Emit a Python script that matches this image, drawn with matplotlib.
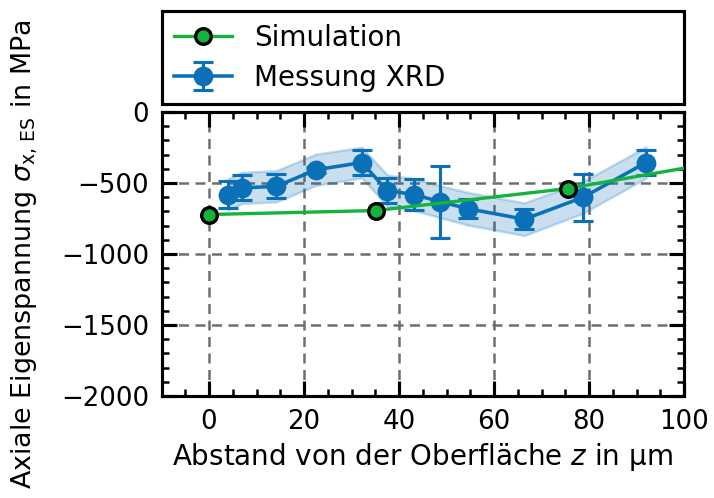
import matplotlib
matplotlib.use("Agg")
import matplotlib.pyplot as plt
from matplotlib.ticker import MultipleLocator

# Simulation data
sim_z = [0.0, 35.1, 75.5, 115.0]
sim_s = [-722, -694, -539, -308]

# Measurement XRD
xrd_z = [4.0, 6.9, 14.2, 22.5, 32.2, 37.5, 43.1, 48.7, 54.5, 66.4, 78.8, 92.0]
xrd_s = [-581, -535, -523, -407, -356, -553, -581, -632, -681, -755, -600, -356]
xrd_err = [96, 88, 83, 20, 89, 89, 108, 252, 69, 69, 166, 87]
xrd_band = [110, 110, 110, 110, 108, 110, 112, 112, 115, 115, 112, 110]

green = "#14b43c"
blue = "#0a71b9"

plt.rcParams['font.family'] = ['DejaVu Sans']
plt.rcParams['font.size'] = 13
plt.rcParams['mathtext.fontset'] = 'dejavusans'

fig = plt.figure(figsize=(7.14 / 1.5, 4.98 / 1.5), dpi=150)
ax = fig.add_axes([161.5 / 714, 1 - 396 / 498, (684 - 161.5) / 714, (396 - 112) / 498])

lo = [s - b for s, b in zip(xrd_s, xrd_band)]
hi = [s + b for s, b in zip(xrd_s, xrd_band)]
ax.fill_between(xrd_z, lo, hi, facecolor=blue, alpha=0.22, edgecolor=blue, linewidth=1.2, zorder=2)

ax.plot(sim_z, sim_s, color=green, lw=1.6, marker='o', markersize=7.5,
        markerfacecolor=green, markeredgecolor='black', markeredgewidth=1.6,
        label='Simulation', zorder=4)
ax.errorbar(xrd_z, xrd_s, yerr=xrd_err, color=blue, lw=1.7, marker='o', markersize=8.5,
            capsize=4.8, capthick=1.5, elinewidth=1.5, label='Messung XRD', zorder=3)

ax.set_xlim(-10, 100)
ax.set_ylim(-2000, 0)
ax.set_xticks([0, 20, 40, 60, 80, 100])
ax.set_yticks([-2000, -1500, -1000, -500, 0])
ax.xaxis.set_minor_locator(MultipleLocator(5))
ax.yaxis.set_minor_locator(MultipleLocator(100))
ax.tick_params(which='both', direction='in', top=True, right=True)
ax.tick_params(which='major', length=7, width=1.5, labelsize=12.5, pad=6)
ax.tick_params(which='minor', length=3.5, width=1.2)
for sp in ax.spines.values():
    sp.set_linewidth(1.5)
ax.grid(True, which='major', linestyle=(0, (4, 2.6)), color='#6e6e6e', linewidth=1.2)
ax.set_axisbelow(True)

ax.set_xlabel(r'Abstand von der Oberfläche $z$ in µm', fontsize=13.3, labelpad=3)
ax.set_ylabel(r'Axiale Eigenspannung $\sigma_{\mathrm{x,\,ES}}$ in MPa', fontsize=12.9, labelpad=10)

y0 = (396 - 104) / 284
y1 = (396 - 12) / 284
leg = ax.legend(loc='lower left', bbox_to_anchor=(0, y0, 1, y1 - y0), mode='expand',
                borderaxespad=0, fancybox=False, framealpha=1, edgecolor='black',
                fontsize=13.3, handlelength=2.1, handletextpad=0.8, labelspacing=0.42,
                borderpad=0.45)
leg.get_frame().set_linewidth(1.5)

fig.savefig('out.png', dpi=150)
